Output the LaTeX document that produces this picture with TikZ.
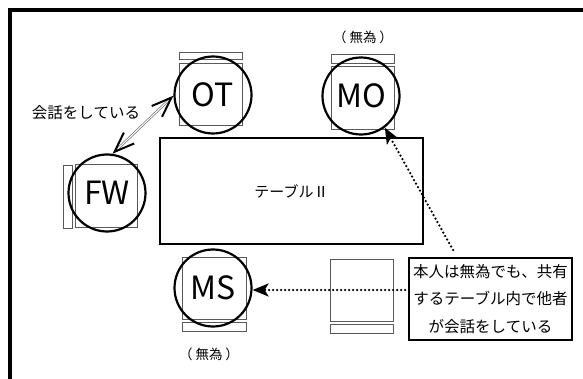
\documentclass[tikz,border=0pt]{standalone}
\usepackage{fontspec}
\setmainfont{Noto Sans CJK JP}
\usetikzlibrary{arrows.meta}
\begin{document}
\begin{tikzpicture}[x=1pt,y=-1pt,
  seat/.style={draw=black!65, line width=0.9pt},
  person/.style={circle, draw=black, line width=2.2pt, minimum size=77pt, inner sep=0pt, font=\fontsize{32}{32}\selectfont},
  dotarrow/.style={line width=2.5pt, dash pattern=on 0pt off 4pt, line cap=round, -{Stealth[length=16pt,width=13pt,inset=4pt]}},
  lbl/.style={font=\fontsize{13.5}{13.5}\selectfont},
  talkarrow/.style={draw=black!55, double=white, double distance=1pt, line width=0.7pt,
    {Straight Barb[color=black,length=20pt,width=15pt,line width=2pt]}-{Straight Barb[color=black,length=20pt,width=15pt,line width=2pt]}}
]
\useasboundingbox (0,0) rectangle (583,379);
\begin{scope}
  \clip (0,0) rectangle (583,379);
  \draw[line width=3.5pt] (10,10) rectangle (640,440);
\end{scope}
% chairs
\draw[seat] (179,52) rectangle (242,59);
\draw[seat] (179,63) rectangle (242,125);
\draw[seat] (331,54) rectangle (394,63);
\draw[seat] (331,66) rectangle (394,129);
\draw[seat] (63,165) rectangle (72,228);
\draw[seat] (75,164) rectangle (137,227);
\draw[seat] (182,257) rectangle (246,319);
\draw[seat] (182,322) rectangle (246,331);
\draw[seat] (330,259) rectangle (393,321);
\draw[seat] (330,324) rectangle (393,333);
% table
\node[draw, line width=1.2pt, minimum width=263pt, minimum height=106pt, inner sep=0pt,
  font=\fontsize{15}{15}\selectfont] (table) at (291.5,191) {テーブルⅡ};
% persons
\node[person] (OT) at (213,95) {OT};
\node[person] (MO) at (361,96) {MO};
\node[person] (FW) at (107,193) {FW};
\node[person] (MS) at (213,288) {MS};
% labels
\node[lbl] (moL) at (363,37) {（\kern3pt 無為\kern3pt ）};
\node[lbl] (msL) at (209,354) {（\kern3pt 無為\kern3pt ）};
\node[font=\fontsize{15.5}{15.5}\selectfont] (talk) at (86,113) {会話をしている};
% note
\node[draw, line width=1.8pt, minimum width=163pt, minimum height=82pt, inner sep=2pt, align=center,
  font=\fontsize{15.5}{27.5}\selectfont] (note) at (490.5,299)
  {本人は無為でも、共有\\するテーブル内で他者\\が会話をしている};
% connectors
\draw[talkarrow] (OT.181) -- (FW.82);
\coordinate (n1) at (453,250);
\coordinate (n2) at (405,290);
\draw[dotarrow] (n1) -- (MO.-53);
\draw[dotarrow] (n2) -- (n2 -| MS.east);
\end{tikzpicture}
\end{document}
